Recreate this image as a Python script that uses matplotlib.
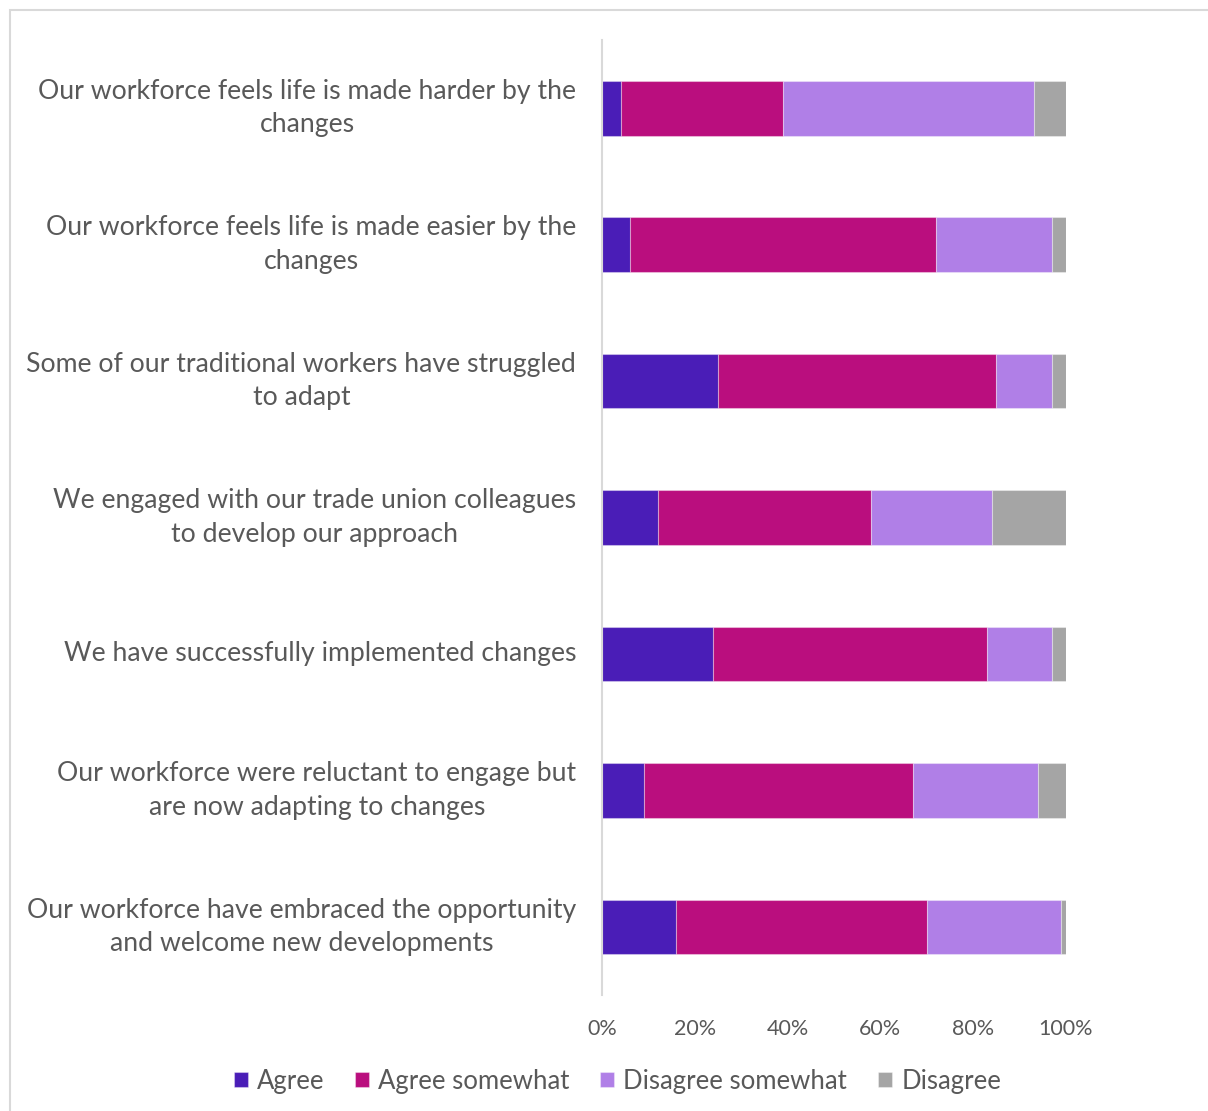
import numpy as np
import matplotlib.pyplot as plt
from matplotlib.patches import Rectangle

plt.rcParams['font.family'] = ['Lato', 'DejaVu Sans']

statements = [
    "Our workforce feels life is made harder by the\nchanges",
    "Our workforce feels life is made easier by the\nchanges",
    "Some of our traditional workers have struggled\nto adapt",
    "We engaged with our trade union colleagues\nto develop our approach",
    "We have successfully implemented changes",
    "Our workforce were reluctant to engage but\nare now adapting to changes",
    "Our workforce have embraced the opportunity\nand welcome new developments",
]
agree = [4, 6, 25, 12, 24, 9, 16]
agree_somewhat = [35, 66, 60, 46, 59, 58, 54]
disagree_somewhat = [54, 25, 12, 26, 14, 27, 29]
disagree = [7, 3, 3, 16, 3, 6, 1]

series = [
    ("Agree", agree, "#4A1DB7"),
    ("Agree somewhat", agree_somewhat, "#BA0E7E"),
    ("Disagree somewhat", disagree_somewhat, "#B07FE7"),
    ("Disagree", disagree, "#A5A5A5"),
]

fig = plt.figure(figsize=(12.08, 11.11), dpi=100)
# light frame around the chart area
fig.patches.append(Rectangle((10 / 1208, -0.05), 1.1, 1 - 10 / 1111 + 0.05,
                             transform=fig.transFigure, fill=False,
                             edgecolor="#D9D9D9", linewidth=1.5))

ax = fig.add_axes([602 / 1208, 1 - 995 / 1111, 464 / 1208, 955 / 1111])
y = np.arange(len(statements))
left = np.zeros(len(statements))
for name, vals, col in series:
    vals = np.array(vals, dtype=float)
    ax.barh(y, vals, left=left, height=0.4, color=col, label=name,
            edgecolor=(1, 1, 1, 0.35), linewidth=0.8)
    left += vals

ax.set_xlim(0, 100)
ax.set_ylim(len(statements) - 0.5, -0.5)
ax.set_yticks(y)
ax.set_yticklabels(statements, fontsize=19.2, color="#595959", ha="right",
                   va="center", multialignment="center", linespacing=1.42)
ax.tick_params(axis="y", length=0, pad=18.5)
ax.set_xticks(np.arange(0, 101, 20))
ax.set_xticklabels([f"{v}%" for v in range(0, 101, 20)], fontsize=15.5,
                   color="#595959")
ax.tick_params(axis="x", length=0, pad=17)
for s in ["top", "right", "bottom"]:
    ax.spines[s].set_visible(False)
ax.spines["left"].set_color("#D9D9D9")
ax.spines["left"].set_linewidth(1.5)

fig.legend(loc="center", bbox_to_anchor=(0.511, 1 - 1081 / 1111), ncol=4,
           frameon=False, fontsize=18.5, labelcolor="#595959",
           handlelength=0.55, handleheight=0.55, handletextpad=0.35,
           columnspacing=1.2)

fig.savefig("out.png", dpi=100, facecolor="white")
